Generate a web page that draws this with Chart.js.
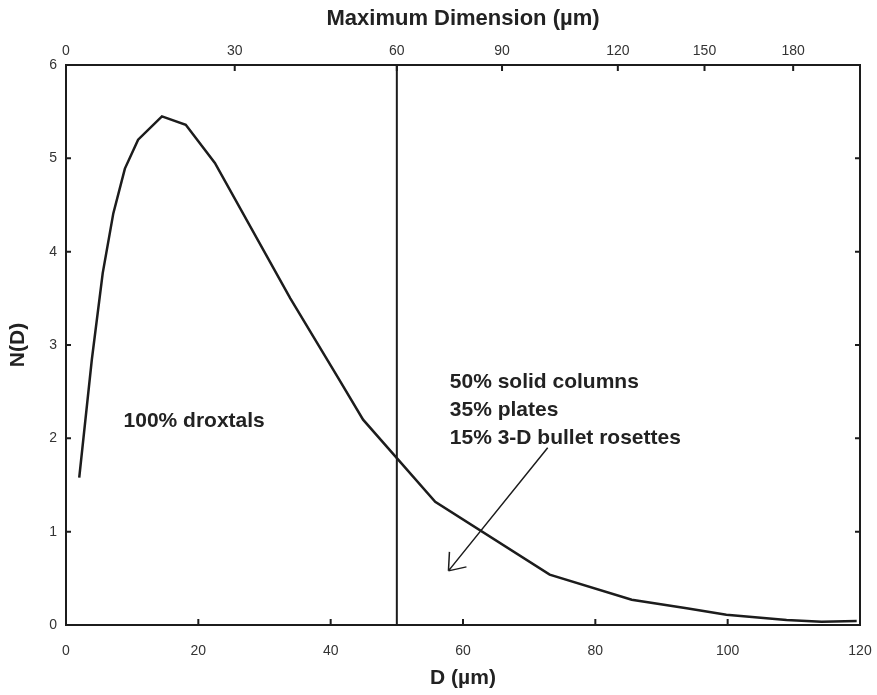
<!DOCTYPE html>
<html>
<head>
<meta charset="utf-8">
<script src="https://cdn.jsdelivr.net/npm/chart.js@4/dist/chart.umd.min.js"></script>
<style>
  html, body { margin: 0; padding: 0; background: #fff; overflow: hidden; }
  canvas { display: block; }
</style>
</head>
<body>
<canvas id="grafic" width="877" height="695"></canvas>
<script>
// Dades llegides del gràfic
let diametres = [2.0, 3.9, 5.55, 7.15, 8.9, 10.9, 14.5, 18.1, 22.5, 33.9, 41.2, 44.9, 55.8, 73.1, 85.5, 93.8, 99.8, 108.9, 114.2, 119.5];
let valorsN   = [1.58, 2.84, 3.77, 4.41, 4.89, 5.20, 5.45, 5.36, 4.95, 3.50, 2.64, 2.20, 1.32, 0.54, 0.27, 0.18, 0.11, 0.054, 0.035, 0.043];

// Eix superior: posició en D de cada etiqueta de dimensió màxima
let ticsSuperiorsD = [0, 25.5, 50, 65.9, 83.4, 96.5, 109.9];
let etiquetesSuperiors = ["0", "30", "60", "90", "120", "150", "180"];

// Anotacions
let liniaVertical = 50;
let textDroxtals = { x: 8.7, y: 2.18, text: "100% droxtals" };
let textMescla = { x: 58.0, y: [2.60, 2.30, 2.00], text: ["50% solid columns", "35% plates", "15% 3-D bullet rosettes"] };
let fletxa = { x0: 72.8, y0: 1.90, x1: 57.8, y1: 0.58 };

let punts = diametres.map((d, i) => ({ x: d, y: valorsN[i] }));

const negre = '#1c1c1c';
const fontTics = { family: "'Liberation Sans', Arial, sans-serif", size: 14 };
const fontTitol = { family: "'Liberation Sans', Arial, sans-serif", size: 21, weight: 'bold' };

// Tics cap a dins i anotacions
const pluginExtres = {
	id: 'extres',
	afterDraw(chart) {
		const ctx = chart.ctx;
		const a = chart.chartArea;
		const sx = chart.scales.x, sy = chart.scales.y;
		ctx.save();
		ctx.strokeStyle = negre;
		ctx.lineWidth = 2;
		// tics
		ctx.beginPath();
		sx.ticks.forEach(t => { let p = sx.getPixelForValue(t.value); ctx.moveTo(p, a.bottom); ctx.lineTo(p, a.bottom - 6); });
		chart.scales.x2.ticks.forEach(t => { let p = chart.scales.x2.getPixelForValue(t.value); ctx.moveTo(p, a.top); ctx.lineTo(p, a.top + 6); });
		sy.ticks.forEach(t => { let p = sy.getPixelForValue(t.value); ctx.moveTo(a.left, p); ctx.lineTo(a.left + 5, p); ctx.moveTo(a.right, p); ctx.lineTo(a.right - 5, p); });
		ctx.stroke();

		// línia vertical
		ctx.beginPath();
		let xv = sx.getPixelForValue(liniaVertical);
		ctx.moveTo(xv, a.top);
		ctx.lineTo(xv, a.bottom);
		ctx.stroke();

		// fletxa
		let fx0 = sx.getPixelForValue(fletxa.x0), fy0 = sy.getPixelForValue(fletxa.y0);
		let fx1 = sx.getPixelForValue(fletxa.x1), fy1 = sy.getPixelForValue(fletxa.y1);
		ctx.lineWidth = 1.5;
		ctx.beginPath();
		ctx.moveTo(fx0, fy0);
		ctx.lineTo(fx1, fy1);
		ctx.moveTo(fx1, fy1);
		ctx.lineTo(fx1 + 1, fy1 - 19);
		ctx.moveTo(fx1, fy1);
		ctx.lineTo(fx1 + 18, fy1 - 4);
		ctx.stroke();

		// textos
		ctx.fillStyle = '#222';
		ctx.font = "bold 21px 'Liberation Sans', Arial, sans-serif";
		ctx.textBaseline = 'middle';
		ctx.textAlign = 'left';
		ctx.fillText(textDroxtals.text, sx.getPixelForValue(textDroxtals.x), sy.getPixelForValue(textDroxtals.y));
		textMescla.text.forEach((t, i) => {
			ctx.fillText(t, sx.getPixelForValue(textMescla.x), sy.getPixelForValue(textMescla.y[i]));
		});
		ctx.restore();
	}
};

const vora = { display: true, color: negre, width: 2 };

let myChart = new Chart(document.getElementById('grafic'), {
	type: 'scatter',
	data: {
		datasets: [{
			data: punts,
			showLine: true,
			borderColor: negre,
			borderWidth: 2.5,
			pointRadius: 0,
			tension: 0,
			xAxisID: 'x',
			yAxisID: 'y'
		}]
	},
	options: {
		responsive: false,
		animation: false,
		devicePixelRatio: 1,
		layout: { padding: 0, autoPadding: false },
		plugins: { legend: { display: false }, tooltip: { enabled: false } },
		scales: {
			x: {
				type: 'linear', position: 'bottom', min: 0, max: 120,
				ticks: { stepSize: 20, font: fontTics, color: '#333', padding: 4, maxRotation: 0 },
				grid: { display: false, drawTicks: true, tickLength: 14 },
				border: vora,
				title: { display: true, text: 'D (µm)', font: fontTitol, color: '#222', padding: { top: 0, bottom: 4 } },
				afterFit: (s) => { s.height = 70; }
			},
			x2: {
				type: 'linear', position: 'top', min: 0, max: 120,
				afterBuildTicks: (s) => { s.ticks = ticsSuperiorsD.map(v => ({ value: v })); },
				ticks: { font: fontTics, color: '#333', padding: 3, maxRotation: 0, callback: (v, i) => etiquetesSuperiors[i] },
				grid: { display: false, drawTicks: true, tickLength: 2 },
				border: vora,
				title: { display: true, text: 'Maximum Dimension (µm)', font: { ...fontTitol, size: 22 }, color: '#222', padding: { top: 6, bottom: 0 } },
				afterFit: (s) => { s.height = 65; }
			},
			y: {
				type: 'linear', position: 'left', min: 0, max: 6,
				ticks: { stepSize: 1, font: fontTics, color: '#333', padding: 9 },
				grid: { display: false, drawTicks: false },
				border: vora,
				title: { display: true, text: 'N(D)', font: fontTitol, color: '#222', padding: { top: 6, bottom: 0 } },
				afterFit: (s) => { s.width = 66; }
			},
			y2: {
				type: 'linear', position: 'right', min: 0, max: 6,
				ticks: { display: false, stepSize: 1 },
				grid: { display: false, drawTicks: false },
				border: vora,
				afterFit: (s) => { s.width = 17; }
			}
		}
	},
	plugins: [pluginExtres]
});
</script>
</body>
</html>
